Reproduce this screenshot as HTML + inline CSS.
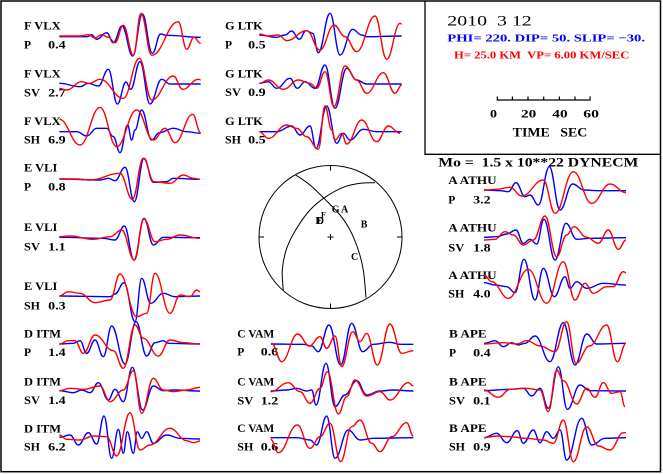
<!DOCTYPE html>
<html><head><meta charset="utf-8">
<style>
html,body{margin:0;padding:0;background:#fff;}
svg{display:block;}
text{font-family:"Liberation Serif",serif;font-weight:bold;white-space:pre;}
</style></head><body>
<svg id="s" width="663" height="474" viewBox="0 0 663 474" xmlns="http://www.w3.org/2000/svg">
<rect x="0" y="0" width="663" height="474" fill="#fff"/>
<rect x="1" y="1" width="659.5" height="470.7" fill="none" stroke="#000" stroke-width="1.5"/>
<path d="M425 1 V154.3 H661" fill="none" stroke="#000" stroke-width="1.3"/>

<!-- info box -->
<text x="447.3" y="25.7" font-size="15" style="font-weight:normal" textLength="84.4" lengthAdjust="spacingAndGlyphs">2010  3 12</text>
<text x="447.3" y="41.7" font-size="11" fill="#0000ff" textLength="197.7" lengthAdjust="spacingAndGlyphs">PHI= 220. DIP= 50. SLIP= −30.</text>
<text x="454" y="58.3" font-size="11" fill="#ff0000" textLength="175.3" lengthAdjust="spacingAndGlyphs">H= 25.0 KM  VP= 6.00 KM/SEC</text>
<g stroke="#000" stroke-width="1.2" fill="none">
<path d="M496.7 100 H590.7 M497.3 96.5 V100 M512.4 96.5 V100 M528 96.5 V100 M543.7 96.5 V100 M559.4 96.5 V100 M575 96.5 V100 M590.1 96.5 V100"/>
</g>
<text x="490" y="117.3" font-size="12" textLength="7" lengthAdjust="spacingAndGlyphs">0</text>
<text x="521" y="117.3" font-size="12" textLength="15.3" lengthAdjust="spacingAndGlyphs">20</text>
<text x="552.3" y="117.3" font-size="12" textLength="15.3" lengthAdjust="spacingAndGlyphs">40</text>
<text x="583.3" y="117.3" font-size="12" textLength="15.7" lengthAdjust="spacingAndGlyphs">60</text>
<text x="512.7" y="136.7" font-size="13" textLength="74.6" lengthAdjust="spacingAndGlyphs">TIME   SEC</text>
<text x="438.3" y="166.7" font-size="13" textLength="200" lengthAdjust="spacingAndGlyphs">Mo =  1.5 x 10**22 DYNECM</text>

<!-- focal sphere -->
<g stroke="#000" stroke-width="1" fill="none">
<circle cx="330.5" cy="237" r="71.5"/>
<path d="M330.5 165.5 V170.5 M330.5 308.5 V303.5 M259 237 H264 M402 237 H397 M327.5 237 H333.5 M330.5 234 V240"/>
<path id="np1" d=""/>
<path id="np2" d=""/>
</g>
<g font-size="10">
<text x="331.7" y="212.7">G</text>
<text x="341" y="212.5">A</text>
<text x="360.7" y="227.7">B</text>
<text x="351" y="260">C</text>
<text x="315.5" y="224">E</text>
<text x="316.7" y="224">D</text>
<text x="321" y="217.3" font-size="8">F</text>
</g>

<!-- labels -->
<g font-size="11.5" fill="#000">
<text x="24" y="29.3" textLength="36.7" lengthAdjust="spacingAndGlyphs">F VLX</text>
<text x="24" y="48.3">P</text><text x="65.7" y="48.3" text-anchor="end" textLength="17.5" lengthAdjust="spacingAndGlyphs">0.4</text>
<text x="24" y="77.3" textLength="36.7" lengthAdjust="spacingAndGlyphs">F VLX</text>
<text x="24" y="96.7" textLength="16" lengthAdjust="spacingAndGlyphs">SV</text><text x="65.7" y="96.7" text-anchor="end" textLength="17.5" lengthAdjust="spacingAndGlyphs">2.7</text>
<text x="24" y="125" textLength="36.7" lengthAdjust="spacingAndGlyphs">F VLX</text>
<text x="24" y="143.3" textLength="16" lengthAdjust="spacingAndGlyphs">SH</text><text x="65.7" y="143.3" text-anchor="end" textLength="17.5" lengthAdjust="spacingAndGlyphs">6.9</text>

<text x="24" y="171.7" textLength="33.3" lengthAdjust="spacingAndGlyphs">E VLI</text>
<text x="24" y="190.7">P</text><text x="65.7" y="190.7" text-anchor="end" textLength="17.5" lengthAdjust="spacingAndGlyphs">0.8</text>
<text x="24" y="231" textLength="33.3" lengthAdjust="spacingAndGlyphs">E VLI</text>
<text x="24" y="250.7" textLength="16" lengthAdjust="spacingAndGlyphs">SV</text><text x="65.7" y="250.7" text-anchor="end" textLength="17.5" lengthAdjust="spacingAndGlyphs">1.1</text>
<text x="24" y="290" textLength="33.3" lengthAdjust="spacingAndGlyphs">E VLI</text>
<text x="24" y="309.3" textLength="16" lengthAdjust="spacingAndGlyphs">SH</text><text x="65.7" y="309.3" text-anchor="end" textLength="17.5" lengthAdjust="spacingAndGlyphs">0.3</text>

<text x="24" y="337.3" textLength="37" lengthAdjust="spacingAndGlyphs">D ITM</text>
<text x="24" y="356">P</text><text x="65.7" y="356" text-anchor="end" textLength="17.5" lengthAdjust="spacingAndGlyphs">1.4</text>
<text x="24" y="385.3" textLength="37" lengthAdjust="spacingAndGlyphs">D ITM</text>
<text x="24" y="404" textLength="16" lengthAdjust="spacingAndGlyphs">SV</text><text x="65.7" y="404" text-anchor="end" textLength="17.5" lengthAdjust="spacingAndGlyphs">1.4</text>
<text x="24" y="432.3" textLength="37" lengthAdjust="spacingAndGlyphs">D ITM</text>
<text x="24" y="450.7" textLength="16" lengthAdjust="spacingAndGlyphs">SH</text><text x="65.7" y="450.7" text-anchor="end" textLength="17.5" lengthAdjust="spacingAndGlyphs">6.2</text>

<text x="225" y="29.3" textLength="37.7" lengthAdjust="spacingAndGlyphs">G LTK</text>
<text x="225" y="48.3">P</text><text x="265.7" y="48.3" text-anchor="end" textLength="17.5" lengthAdjust="spacingAndGlyphs">0.5</text>
<text x="225" y="77.3" textLength="37.7" lengthAdjust="spacingAndGlyphs">G LTK</text>
<text x="225" y="96" textLength="16" lengthAdjust="spacingAndGlyphs">SV</text><text x="265.7" y="96" text-anchor="end" textLength="17.5" lengthAdjust="spacingAndGlyphs">0.9</text>
<text x="225" y="125" textLength="37.7" lengthAdjust="spacingAndGlyphs">G LTK</text>
<text x="225" y="143.3" textLength="16" lengthAdjust="spacingAndGlyphs">SH</text><text x="265.7" y="143.3" text-anchor="end" textLength="17.5" lengthAdjust="spacingAndGlyphs">0.5</text>

<text x="237.3" y="337.3" textLength="37" lengthAdjust="spacingAndGlyphs">C VAM</text>
<text x="237.3" y="355.7">P</text><text x="278.3" y="355.7" text-anchor="end" textLength="17.5" lengthAdjust="spacingAndGlyphs">0.6</text>
<text x="237.3" y="385.3" textLength="37" lengthAdjust="spacingAndGlyphs">C VAM</text>
<text x="237.3" y="404.3" textLength="16" lengthAdjust="spacingAndGlyphs">SV</text><text x="278.3" y="404.3" text-anchor="end" textLength="17.5" lengthAdjust="spacingAndGlyphs">1.2</text>
<text x="237.3" y="432" textLength="37" lengthAdjust="spacingAndGlyphs">C VAM</text>
<text x="237.3" y="450.7" textLength="16" lengthAdjust="spacingAndGlyphs">SH</text><text x="278.3" y="450.7" text-anchor="end" textLength="17.5" lengthAdjust="spacingAndGlyphs">0.6</text>

<text x="448.3" y="184" textLength="48.3" lengthAdjust="spacingAndGlyphs">A ATHU</text>
<text x="448.3" y="203.3">P</text><text x="490.7" y="203.3" text-anchor="end" textLength="17.5" lengthAdjust="spacingAndGlyphs">3.2</text>
<text x="448.3" y="231.3" textLength="48.3" lengthAdjust="spacingAndGlyphs">A ATHU</text>
<text x="448.3" y="251.7" textLength="16" lengthAdjust="spacingAndGlyphs">SV</text><text x="490.7" y="251.7" text-anchor="end" textLength="17.5" lengthAdjust="spacingAndGlyphs">1.8</text>
<text x="448.3" y="279" textLength="48.3" lengthAdjust="spacingAndGlyphs">A ATHU</text>
<text x="448.3" y="297.3" textLength="16" lengthAdjust="spacingAndGlyphs">SH</text><text x="490.7" y="297.3" text-anchor="end" textLength="17.5" lengthAdjust="spacingAndGlyphs">4.0</text>

<text x="449" y="337.3" textLength="37.7" lengthAdjust="spacingAndGlyphs">B APE</text>
<text x="449" y="356.7">P</text><text x="490.7" y="356.7" text-anchor="end" textLength="17.5" lengthAdjust="spacingAndGlyphs">0.4</text>
<text x="449" y="385.3" textLength="37.7" lengthAdjust="spacingAndGlyphs">B APE</text>
<text x="449" y="404.3" textLength="16" lengthAdjust="spacingAndGlyphs">SV</text><text x="490.7" y="404.3" text-anchor="end" textLength="17.5" lengthAdjust="spacingAndGlyphs">0.1</text>
<text x="449" y="432" textLength="37.7" lengthAdjust="spacingAndGlyphs">B APE</text>
<text x="449" y="450.7" textLength="16" lengthAdjust="spacingAndGlyphs">SH</text><text x="490.7" y="450.7" text-anchor="end" textLength="17.5" lengthAdjust="spacingAndGlyphs">0.9</text>
</g>

<g id="w" fill="none" stroke-width="1.4" stroke-linejoin="round"></g>
</svg>
<script>
(function(){
var T=[
[0,0,
[[178,110],[262,110],[275,104],[290,118],[320,98],[340,128],[366,78],[398,168],[427,42],[457,160],[482,102],[500,106],[602,112]],
[[178,108],[240,108],[265,104],[285,114],[305,104],[325,112],[345,128],[370,76],[400,166],[423,40],[455,166],[535,65],[560,148],[582,112],[602,130]]],
[0,0,
[[178,250],[240,260],[265,250],[295,258],[325,208],[352,312],[378,246],[392,268],[420,185],[450,312],[485,238],[510,252],[602,252]],
[[178,265],[200,270],[245,245],[268,250],[300,238],[370,295],[418,175],[455,300],[520,228],[548,268],[595,238],[602,240]]],
[0,0,
[[178,395],[230,395],[260,408],[290,385],[320,385],[340,410],[360,458],[383,375],[395,420],[405,390],[425,330],[455,420],[478,398],[520,385],[560,395],[602,400]],
[[178,358],[240,435],[300,322],[350,440],[410,330],[460,420],[495,385],[525,428],[578,343],[602,398]]],
[210,0,
[[148,105],[200,112],[225,105],[245,93],[268,118],[288,92],[308,100],[325,158],[360,40],[390,165],[428,88],[455,105],[470,110],[575,108]],
[[148,102],[175,108],[205,105],[230,122],[290,92],[330,150],[372,75],[405,110],[440,155],[495,48],[530,178],[570,70],[575,72]]],
[210,0,
[[148,250],[175,245],[200,265],[240,235],[262,265],[285,245],[315,265],[345,195],[375,325],[410,205],[440,240],[470,252],[575,252]],
[[148,250],[175,240],[220,268],[265,240],[300,250],[320,265],[345,215],[372,320],[405,198],[440,240],[470,280],[520,218],[555,280],[575,255]]],
[210,0,
[[148,395],[200,395],[245,378],[270,405],[300,378],[318,445],[350,318],[380,430],[400,400],[420,420],[460,388],[500,395],[575,395]],
[[148,395],[175,415],[230,375],[260,385],[290,410],[325,448],[345,318],[365,390],[375,420],[395,400],[410,432],[455,360],[500,425],[535,378],[570,400]]],
[0,150,
[[178,87],[300,90],[325,85],[345,92],[375,52],[403,155],[432,25],[460,97],[500,95],[520,85],[600,88]],
[[178,87],[230,87],[270,90],[360,70],[397,148],[430,25],[462,95],[510,100],[550,75],[580,85],[600,88]]],
[0,150,
[[178,262],[310,265],[345,270],[373,228],[402,330],[432,205],[460,285],[490,262],[600,263]],
[[178,260],[210,258],[280,268],[330,260],[365,240],[403,330],[432,207],[465,275],[500,268],[540,255],[600,265]]],
[0,150,
[[178,438],[330,440],[345,432],[372,398],[405,515],[425,385],[452,460],[490,430],[525,440],[600,438]],
[[178,438],[205,425],[240,430],[285,458],[330,450],[360,372],[410,500],[440,490],[465,370],[510,490],[540,435],[570,440],[590,420],[600,425]]],
[0,320,
[[178,72],[220,70],[240,62],[260,100],[285,60],[310,110],[335,18],[375,132],[408,5],[440,108],[465,68],[490,62],[505,70],[600,72]],
[[178,72],[205,62],[225,62],[250,100],[285,45],[340,92],[370,145],[405,15],[430,55],[475,108],[510,60],[550,68],[600,72]]],
[0,320,
[[178,212],[220,218],[245,210],[270,218],[295,188],[325,240],[345,208],[370,245],[397,142],[428,270],[460,198],[490,212],[520,210],[600,213]],
[[178,212],[210,205],[250,208],[300,198],[330,245],[370,210],[400,152],[425,280],[460,175],[490,210],[520,215],[560,210],[600,202]]],
[0,320,
[[178,352],[210,345],[235,375],[265,338],[290,372],[312,288],[335,415],[355,328],[370,400],[382,335],[400,400],[412,335],[425,355],[440,335],[460,370],[500,345],[540,355],[600,357]],
[[178,345],[200,358],[240,360],[280,348],[320,350],[350,408],[390,278],[420,390],[450,375],[510,325],[560,362],[580,368],[600,363]]],
[220,310,
[[152,102],[250,103],[275,108],[295,125],[327,45],[362,165],[395,40],[428,125],[460,103],[510,97],[540,103],[580,103]],
[[155,100],[185,155],[233,72],[268,108],[300,80],[320,115],[345,78],[365,170],[398,65],[420,95],[440,70],[472,165],[510,42],[545,130],[580,122]]],
[220,310,
[[152,243],[200,240],[230,235],[260,243],[275,240],[288,285],[318,160],[345,290],[375,255],[410,212],[440,255],[480,243],[520,240],[580,243]],
[[152,245],[205,218],[240,245],[270,280],[300,235],[322,185],[355,312],[380,260],[405,210],[440,258],[480,245],[510,270],[565,218],[580,228]]],
[220,310,
[[152,383],[230,383],[270,390],[290,405],[320,318],[345,445],[385,360],[420,390],[460,385],[580,383]],
[[152,388],[175,428],[232,345],[270,415],[300,380],[330,340],[362,455],[395,350],[420,330],[455,400],[480,425],[515,380],[560,338],[580,378]]],
[430,160,
[[162,90],[210,92],[235,95],[258,68],[285,110],[300,105],[325,135],[358,20],[390,150],[428,72],[462,90],[500,92],[588,92]],
[[162,90],[200,88],[240,82],[275,108],[340,60],[375,160],[430,35],[485,130],[540,72],[588,98]]],
[430,160,
[[162,232],[200,230],[230,222],[258,210],[280,250],[300,238],[320,252],[342,178],[375,300],[408,190],[440,238],[480,235],[588,233]],
[[162,240],[195,238],[225,215],[250,225],[280,255],[310,240],[345,168],[380,290],[410,225],[432,200],[470,232],[505,250],[535,210],[565,268],[588,240]]],
[430,160,
[[162,368],[195,375],[230,380],[255,398],[282,298],[315,420],[340,325],[373,410],[405,350],[420,385],[440,365],[470,385],[520,370],[588,375]],
[[162,345],[185,365],[235,415],[295,328],[350,430],[400,305],[435,420],[465,370],[490,400],[530,380],[550,380],[580,335],[588,338]]],
[430,310,
[[162,100],[195,92],[220,110],[245,98],[265,105],[285,100],[315,78],[360,155],[400,38],[435,165],[470,72],[500,102],[588,100]],
[[162,102],[220,98],[260,102],[290,92],[330,108],[375,125],[410,35],[438,160],[478,108],[530,45],[562,155],[588,100]]],
[430,310,
[[162,242],[240,238],[280,235],[305,258],[330,235],[355,295],[385,170],[412,298],[450,225],[480,242],[588,243]],
[[162,240],[205,262],[240,238],[290,235],[330,240],[355,305],[380,180],[400,212],[440,282],[470,235],[495,262],[520,218],[545,250],[570,245],[585,290]]],
[430,310,
[[162,383],[200,370],[230,398],[262,362],[280,400],[310,360],[330,398],[350,365],[370,385],[390,360],[410,450],[455,325],[485,405],[525,385],[588,383]],
[[162,383],[200,378],[240,380],[290,385],[340,390],[370,400],[400,330],[430,455],[470,350],[505,408],[540,420],[580,368],[588,368]]]
];
function f(v){return (Math.round(v*100)/100).toString();}
function wave(p,ox,oy){
  var q=p.map(function(a){return [ox+a[0]/3,oy+a[1]/3];});
  var d="M"+f(q[0][0])+" "+f(q[0][1]);
  for(var i=1;i<q.length;i++){
    var x0=q[i-1][0],y0=q[i-1][1],x1=q[i][0],y1=q[i][1],dx=x1-x0;
    d+=" C"+f(x0+dx*0.42)+" "+f(y0)+" "+f(x1-dx*0.42)+" "+f(y1)+" "+f(x1)+" "+f(y1);
  }
  return d;
}
var g=document.getElementById("w"),h="";
T.forEach(function(t){
  h+='<path stroke="#0000ff" d="'+wave(t[2],t[0],t[1])+'"/>';
  h+='<path stroke="#ff0000" d="'+wave(t[3],t[0],t[1])+'"/>';
});
g.innerHTML=h;
function cr(p){
  var d="M"+f(p[0][0])+" "+f(p[0][1]);
  for(var i=0;i<p.length-1;i++){
    var p0=p[i-1]||p[i],p1=p[i],p2=p[i+1],p3=p[i+2]||p2;
    d+=" C"+f(p1[0]+(p2[0]-p0[0])/6)+" "+f(p1[1]+(p2[1]-p0[1])/6)+" "+f(p2[0]-(p3[0]-p1[0])/6)+" "+f(p2[1]-(p3[1]-p1[1])/6)+" "+f(p2[0])+" "+f(p2[1]);
  }
  return d;
}
document.getElementById("np1").setAttribute("d",cr([[295.7,175],[310,185],[325,199.3],[340,215],[350,230],[358.3,250],[363.3,270],[366,297.7]]));
document.getElementById("np2").setAttribute("d",cr([[283.3,290],[282.3,270],[286.7,248.3],[296.7,228.3],[310,210],[325,197.3],[343.3,187.3],[360,183.3],[375,182.7]]));
})();
</script>
</body></html>
